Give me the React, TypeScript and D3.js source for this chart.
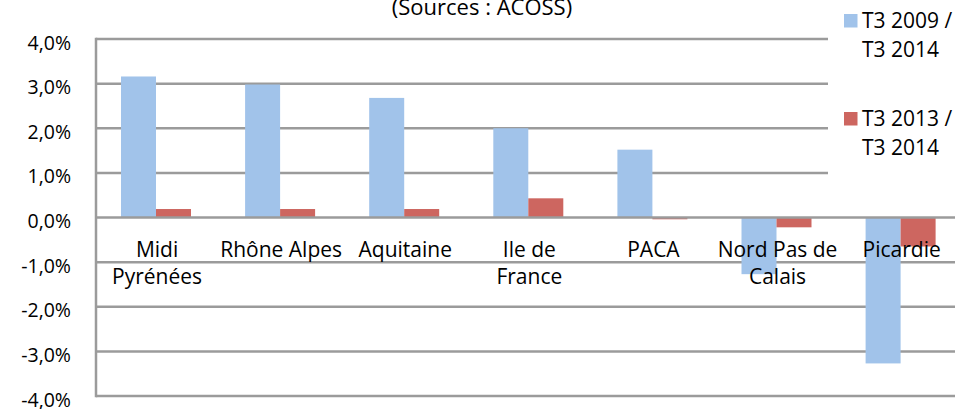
import React, { useRef, useEffect } from 'react';
import * as d3 from 'd3';

// régions et labels (retour à la ligne comme dans l'original)
const categories: string[] = ['Midi Pyrénées', 'Rhône Alpes', 'Aquitaine', 'Ile de France', 'PACA', 'Nord Pas de Calais', 'Picardie'];
const categoryLines: string[][] = [['Midi', 'Pyrénées'], ['Rhône Alpes'], ['Aquitaine'], ['Ile de', 'France'], ['PACA'], ['Nord Pas de', 'Calais'], ['Picardie']];

const seriesNames: string[] = ['T3 2009 / T3 2014', 'T3 2013 / T3 2014'];
const legendLines: string[][] = [['T3 2009 /', 'T3 2014'], ['T3 2013 /', 'T3 2014']];

// valeurs en %
const evol2009: number[] = [3.16, 2.98, 2.68, 2.0, 1.52, -1.27, -3.27];
const evol2013: number[] = [0.19, 0.19, 0.19, 0.43, -0.04, -0.22, -0.65];

const yTicks: number[] = [-4, -3, -2, -1, 0, 1, 2, 3, 4];

const colors = ['#A1C3EA', '#CD6660'];
const FONT = '"Open Sans", sans-serif';

const App: React.FC = () => {
  const svgRef = useRef<SVGSVGElement | null>(null);

  useEffect(() => {
    if (!svgRef.current) return;
    const width = 955;
    const height = 409;
    const left = 96;
    const step = 124.1;

    const svg = d3.select(svgRef.current)
      .attr('width', width)
      .attr('height', height);
    svg.selectAll('*').remove();

    const x0 = d3.scaleBand<string>()
      .domain(categories)
      .range([left, left + step * categories.length])
      .padding(0);

    const x1 = d3.scaleBand<string>()
      .domain(seriesNames)
      .range([25, 95])
      .padding(0);

    const y = d3.scaleLinear()
      .domain([-4, 4])
      .range([396, 39]);

    // gridlines (derrière les barres)
    svg.append('g')
      .selectAll('line')
      .data(yTicks.filter(d => d !== 0))
      .join('line')
      .attr('x1', left)
      .attr('x2', width)
      .attr('y1', d => y(d))
      .attr('y2', d => y(d))
      .attr('stroke', '#9b9b9b')
      .attr('stroke-width', 2.5);

    const series = [evol2009, evol2013];
    seriesNames.forEach((name, s) => {
      svg.append('g')
        .selectAll('rect')
        .data(series[s])
        .join('rect')
        .attr('x', (_, i) => (x0(categories[i]) as number) + (x1(name) as number))
        .attr('width', x1.bandwidth())
        .attr('y', d => y(Math.max(0, d)))
        .attr('height', d => Math.abs(y(d) - y(0)))
        .attr('fill', colors[s]);
    });

    // axe vertical
    svg.append('line')
      .attr('x1', left).attr('x2', left)
      .attr('y1', y(4) - 1.25).attr('y2', y(-4) + 1.25)
      .attr('stroke', '#9b9b9b')
      .attr('stroke-width', 2.5);

    // axe horizontal à 0
    svg.append('line')
      .attr('x1', left).attr('x2', width)
      .attr('y1', y(0)).attr('y2', y(0))
      .attr('stroke', '#9b9b9b')
      .attr('stroke-width', 2.5);

    // labels de l'axe y
    svg.append('g')
      .selectAll('text')
      .data(yTicks)
      .join('text')
      .attr('x', 71)
      .attr('y', d => y(d) + 3)
      .attr('text-anchor', 'end')
      .attr('dominant-baseline', 'central')
      .attr('font-family', FONT)
      .attr('font-size', 19.5)
      .attr('fill', '#000')
      .text(d => d3.format('.1f')(d).replace('.', ',').replace('−', '-') + '%');

    // labels des catégories
    const catG = svg.append('g');
    categories.forEach((c, i) => {
      const cx = (x0(c) as number) + x0.bandwidth() / 2 - 1;
      const t = catG.append('text')
        .attr('text-anchor', 'middle')
        .attr('font-family', FONT)
        .attr('font-size', 21)
        .attr('fill', '#000');
      categoryLines[i].forEach((line, k) => {
        t.append('tspan')
          .attr('x', cx)
          .attr('y', 257 + k * 27)
          .text(line);
      });
    });

    // titre (coupé en haut)
    svg.append('text')
      .attr('x', 482)
      .attr('y', 15)
      .attr('text-anchor', 'middle')
      .attr('font-family', FONT)
      .attr('font-size', 22)
      .attr('fill', '#000')
      .text('(Sources : ACOSS)');

    // légende sur fond blanc
    svg.append('rect')
      .attr('x', 828).attr('y', 28)
      .attr('width', width - 828).attr('height', 165)
      .attr('fill', '#fff');

    const legendY = [14, 112];
    legendLines.forEach((lines, s) => {
      svg.append('rect')
        .attr('x', 844).attr('y', legendY[s])
        .attr('width', 13.5).attr('height', 13.5)
        .attr('fill', colors[s]);
      const t = svg.append('text')
        .attr('font-family', FONT)
        .attr('font-size', 21)
        .attr('fill', '#000');
      lines.forEach((line, k) => {
        t.append('tspan')
          .attr('x', 862)
          .attr('y', legendY[s] + 14 + k * 29)
          .text(line);
      });
    });
  }, []);

  return <svg ref={svgRef} style={{ position: 'absolute', left: 0, top: 0 }}></svg>;
};

export default App;
